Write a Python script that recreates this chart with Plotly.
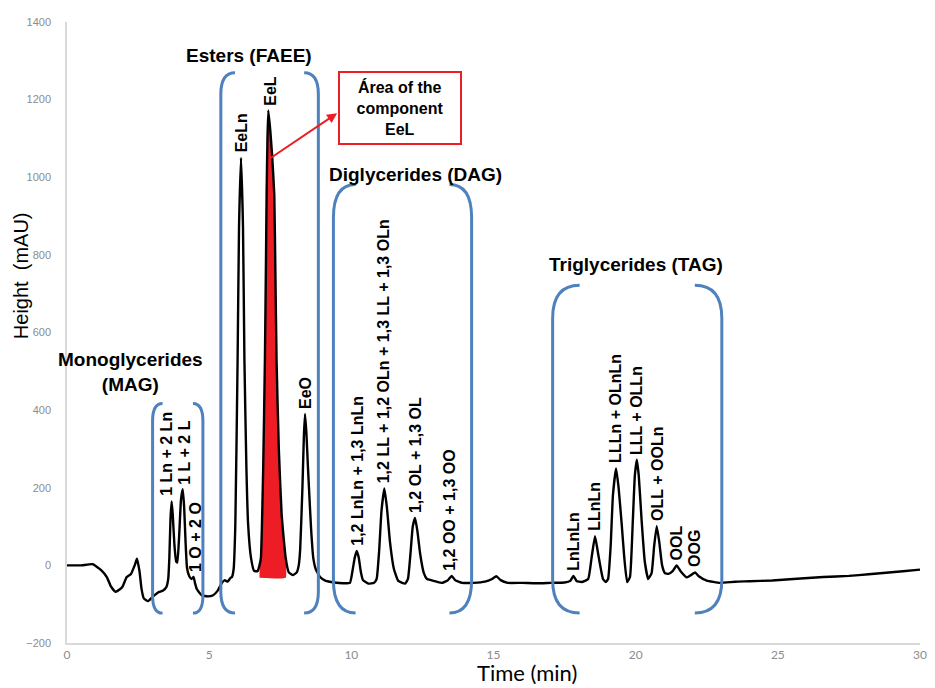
import plotly.graph_objects as go

# ---------------- data ----------------
time_min = [
    0.0, 0.5, 0.9, 1.2, 1.4, 1.55, 1.7, 1.85, 1.95, 2.1, 2.25, 2.38, 2.46, 2.55, 2.62, 2.7, 2.85,
    3.03, 3.2, 3.38, 3.5, 3.56, 3.6, 3.64, 3.68, 3.72, 3.78, 3.84, 3.88, 3.94, 4.01, 4.07, 4.12,
    4.17, 4.22, 4.3, 4.38, 4.45, 4.5, 4.56, 4.65, 4.74, 4.95, 5.14, 5.3, 5.45, 5.55, 5.65, 5.75,
    5.8, 5.86, 5.92, 6.0, 6.05, 6.12, 6.19, 6.24, 6.31, 6.37, 6.47, 6.58, 6.7, 6.77, 6.82, 6.9,
    6.96, 7.0, 7.02, 7.05, 7.08, 7.15, 7.22, 7.29, 7.33, 7.37, 7.45, 7.55, 7.69, 7.8, 7.95, 8.08,
    8.15, 8.2, 8.28, 8.33, 8.37, 8.42, 8.47, 8.51, 8.58, 8.66, 8.75, 8.9, 9.1, 9.4, 9.7, 9.95,
    10.05, 10.12, 10.19, 10.26, 10.33, 10.41, 10.6, 10.8, 10.89, 10.98, 11.06, 11.16, 11.25,
    11.36, 11.5, 11.65, 11.89, 11.99, 12.08, 12.16, 12.24, 12.32, 12.42, 12.55, 12.66, 12.8,
    13.0, 13.2, 13.4, 13.53, 13.65, 13.9, 14.3, 14.7, 14.95, 15.1, 15.25, 15.5, 16.0, 16.5,
    17.0, 17.5, 17.7, 17.81, 17.92, 18.1, 18.33, 18.45, 18.57, 18.68, 18.85, 18.95, 19.03,
    19.12, 19.2, 19.31, 19.4, 19.51, 19.6, 19.7, 19.8, 19.9, 19.97, 20.04, 20.11, 20.21, 20.32,
    20.44, 20.56, 20.65, 20.74, 20.83, 20.93, 21.03, 21.15, 21.3, 21.44, 21.58, 21.8, 21.95,
    22.09, 22.22, 22.5, 22.97, 23.5, 24.0, 24.8, 25.8, 26.6, 27.5, 28.2, 28.8, 29.4, 30.0,
]
height_mau = [
    0, 0, 3, -12, -30, -55, -68, -62, -55, -30, -22, 0, 17, -15, -60, -85, -92,
    -80, -70, -65, -55, -35, 20, 120, 165, 130, 50, 10, 7, 70, 170, 196, 150,
    60, -6, -28, -35, -30, -45, -60, -70, -77, -80, -77, -65, -45, -38, -42, -32,
    -30, -10, 106, 530, 871, 1050, 871, 530, 250, 106, 20, -14, -15, 0, 20, 250,
    530, 800, 955, 1100, 1172, 1120, 1050, 955, 750, 530, 300, 130, 20, -18, -25, -18,
    0, 40, 200, 330, 390, 340, 260, 200, 100, 20, -10, -30, -40, -44, -46, -45,
    -10, 20, 37, 20, -15, -38, -47, -45, -35, 40, 140, 198, 150,
    60, -10, -40, -47, -35, 30, 100, 122, 90, 30, -20, -35, -38,
    -42, -45, -38, -27, -38, -45, -45, -42, -35, -28, -38, -45, -45, -46,
    -45, -44, -40, -27, -40, -43, -35, 20, 75, 30, -35, -43, -35,
    50, 180, 250, 200, 105, 20, -43, -30, 115, 230, 272, 230, 115, 10,
    -35, -20, 50, 101, 60, 0, -20, -22, -15, 0, -15, -31, -25,
    -18, -28, -39, -45, -42, -41, -39, -34, -30, -27, -23, -19, -15, -11,
]

# highlighted component (EeL) integration window and baseline
eel_start, eel_end, eel_baseline = 6.77, 7.72, -32

# peak labels: name, retention time (min), peak height (mAU)
peak_names = [
    "1 Ln + 2 Ln", "1 L + 2 L", "1 O + 2 O",
    "EeLn", "EeL", "EeO",
    "1,2 LnLn + 1,3 LnLn", "1,2 LL + 1,2 OLn + 1,3 LL + 1,3 OLn", "1,2 OL + 1,3 OL", "1,2 OO + 1,3 OO",
    "LnLnLn", "LLnLn", "LLLn + OLnLn", "LLL + OLLn", "OLL + OOLn", "OOL", "OOG",
]
peak_times = [3.5, 4.13, 4.5, 6.12, 7.15, 8.37, 10.19, 11.14, 12.24, 13.45,
              17.81, 18.57, 19.31, 20.04, 20.74, 21.44, 22.09]
peak_heights = [165, 196, -30, 1050, 1172, 390, 37, 198, 122, -27,
                -27, 75, 250, 272, 101, 0, -18]

# compound groups (bracket extent in minutes / mAU)
group_titles = ["Monoglycerides<br>(MAG)", "Esters (FAEE)", "Diglycerides (DAG)", "Triglycerides (TAG)"]
group_start = [3.01, 5.41, 9.37, 17.08]
group_end = [4.78, 8.84, 14.23, 23.03]
group_top = [417, 1269, 981, 722]
group_bottom = [-123, -123, -123, -123]

x_ticks = [0, 5, 10, 15, 20, 25, 30]
y_ticks = [-200, 0, 200, 400, 600, 800, 1000, 1200, 1400]

# ---------------- figure ----------------
FONT = "Liberation Sans, Arial, sans-serif"
BLUE = "#4f81bd"
RED = "#ee1c24"

fig = go.Figure()

# red area of EeL
fx = [t for t in time_min if eel_start <= t <= eel_end]
fy = [max(h, eel_baseline) for t, h in zip(time_min, height_mau) if eel_start <= t <= eel_end]
fx = fx + [fx[-1], fx[0]]
fy = fy + [eel_baseline, eel_baseline]
fig.add_trace(go.Scatter(x=fx, y=fy, mode="lines", fill="toself", fillcolor=RED,
                         line=dict(width=0, color=RED, shape="spline", smoothing=0.4),
                         hoverinfo="skip", showlegend=False))

# chromatogram
fig.add_trace(go.Scatter(x=time_min, y=height_mau, mode="lines",
                         line=dict(color="black", width=2.4, shape="spline", smoothing=0.4),
                         showlegend=False))

# brackets
arm = [0.35, 0.5, 0.78, 0.95]
curl = [45, 55, 85, 85]
shapes = []
for L, R, T, B, a, c in zip(group_start, group_end, group_top, group_bottom, arm, curl):
    left = (f"M {L + a},{T} Q {L},{T} {L},{T - c} L {L},{B + c} Q {L},{B} {L + a},{B}")
    right = (f"M {R - a},{T} Q {R},{T} {R},{T - c} L {R},{B + c} Q {R},{B} {R - a},{B}")
    for p in (left, right):
        shapes.append(dict(type="path", path=p, xref="x", yref="y",
                           line=dict(color=BLUE, width=3)))

annotations = []
# peak labels
for name, t, h in zip(peak_names, peak_times, peak_heights):
    annotations.append(dict(x=t, y=h, xref="x", yref="y", text=name, textangle=-90,
                            showarrow=False, xanchor="center", yanchor="bottom", yshift=3,
                            font=dict(family=FONT, size=16, color="black", weight="bold")))

# group titles
title_pos = [(2.22, 497), (6.4, 1313), (12.24, 1007), (20.01, 774)]
for txt, (tx, ty) in zip(group_titles, title_pos):
    annotations.append(dict(x=tx, y=ty, xref="x", yref="y", text=f"<b>{txt}</b>",
                            showarrow=False, xanchor="center", yanchor="middle",
                            font=dict(family=FONT, size=19, color="black")))

# callout box + arrow
annotations.append(dict(x=11.71, y=1179, xref="x", yref="y",
                        text="<b>Área of the<br>component<br>EeL</b>", showarrow=False,
                        font=dict(family=FONT, size=16, color="black"),
                        bordercolor=RED, borderwidth=2, bgcolor="white",
                        width=118, height=68, borderpad=1))
annotations.append(dict(x=9.5, y=1165, ax=7.07, ay=1045, xref="x", yref="y",
                        axref="x", ayref="y", text="", showarrow=True,
                        arrowcolor=RED, arrowwidth=2, arrowhead=2, arrowsize=1))

# axis titles
annotations.append(dict(x=-0.053, y=0.592, xref="paper", yref="paper", text="Height  (mAU)",
                        textangle=-90, showarrow=False, xanchor="center", yanchor="middle",
                        font=dict(family=FONT, size=20, color="black")))
annotations.append(dict(x=0.539, y=-0.048, xref="paper", yref="paper", text="Time (min)",
                        showarrow=False, xanchor="center", yanchor="middle",
                        font=dict(family="Lato, Open Sans, sans-serif", size=22, color="black")))

# the page body adds an 8px offset, so the figure is sized to fit the 935x688 window
fig.update_layout(
    width=927, height=680,
    margin=dict(l=59, r=15, t=8, b=45),
    paper_bgcolor="white", plot_bgcolor="white",
    shapes=shapes, annotations=annotations,
    showlegend=False,
)
fig.update_xaxes(range=[0, 30], tickvals=x_ticks, showgrid=False, zeroline=False,
                 showline=True, linecolor="#d9d9d9", linewidth=1.5, ticks="",
                 tickfont=dict(family="Lato, sans-serif", size=12, color="#8c8c8c"))
fig.update_yaxes(range=[-200, 1400], tickvals=y_ticks, showgrid=False, zeroline=False,
                 showline=True, linecolor="#d9d9d9", linewidth=1.5, ticks="",
                 ticklabelstandoff=12,
                 tickfont=dict(family=FONT, size=11, color="#8c8c8c"))

fig.write_html("out.html")
